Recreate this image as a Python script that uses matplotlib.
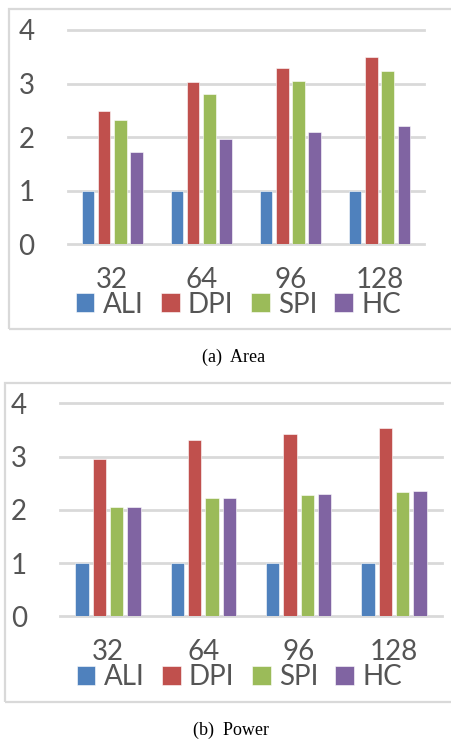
import matplotlib
matplotlib.use("Agg")
import matplotlib.pyplot as plt
import numpy as np
from matplotlib.patches import Rectangle

W, H = 452, 741

categories = ["32", "64", "96", "128"]
series = ["ALI", "DPI", "SPI", "HC"]
colors = ["#4F81BD", "#C0504D", "#9BBB59", "#8064A2"]

area_ali = [1.0, 1.0, 1.0, 1.0]
area_dpi = [2.49, 3.03, 3.30, 3.50]
area_spi = [2.32, 2.80, 3.05, 3.23]
area_hc = [1.72, 1.96, 2.10, 2.20]

power_ali = [1.0, 1.0, 1.0, 1.0]
power_dpi = [2.95, 3.31, 3.43, 3.53]
power_spi = [2.05, 2.22, 2.28, 2.33]
power_hc = [2.06, 2.23, 2.30, 2.35]

yticks = [0, 1, 2, 3, 4]

TEXT = "#555555"
GRID = "#d9d9d9"
FONT = "Lato"


def px_box(left, top, right, bottom):
    # pixel box -> figure fraction [l, b, w, h]
    return [left / W, 1 - bottom / H, (right - left) / W, (bottom - top) / H]


def draw_panel(fig, box, frame, values, legend_xy, caption, caption_xy):
    fig.add_artist(Rectangle((frame[0] / W, 1 - frame[3] / H),
                             (frame[2] - frame[0]) / W, (frame[3] - frame[1]) / H,
                             transform=fig.transFigure, fill=False,
                             edgecolor=GRID, linewidth=1.6))
    ax = fig.add_axes(px_box(*box))
    x = np.arange(len(categories))
    step = 0.182
    width = 0.14
    handles = []
    for i, (vals, c, name) in enumerate(zip(values, colors, series)):
        b = ax.bar(x + (i - 1.5) * step, vals, width, color=c,
                   edgecolor="white", linewidth=0.4, label=name, zorder=3)
        handles.append(b)
    ax.set_xlim(-0.5, len(categories) - 0.5)
    ax.set_ylim(0, 4)
    ax.set_yticks(yticks)
    ax.set_yticklabels([str(t) for t in yticks])
    ax.set_xticks(x)
    ax.set_xticklabels(categories)
    for t in yticks:
        ax.axhline(t, color=GRID, linewidth=2.0, zorder=1, clip_on=False)
    for s in ax.spines.values():
        s.set_visible(False)
    ax.tick_params(axis="y", length=0, pad=24, labelsize=20, labelcolor=TEXT)
    ax.tick_params(axis="x", length=0, pad=16, labelsize=20, labelcolor=TEXT)
    for lbl in ax.get_xticklabels() + ax.get_yticklabels():
        lbl.set_fontfamily(FONT)
    fig.legend(handles=handles, labels=series, loc="center",
               bbox_to_anchor=(legend_xy[0] / W, 1 - legend_xy[1] / H),
               ncol=4, frameon=False,
               prop={"family": FONT, "size": 20},
               labelcolor=TEXT, handlelength=0.68, handleheight=0.68,
               handletextpad=0.3, columnspacing=0.62, borderpad=0,
               borderaxespad=0)
    fig.text(caption_xy[0] / W, 1 - caption_xy[1] / H, caption,
             ha="center", va="center", fontsize=13,
             family="Liberation Serif", color="black")
    return ax


fig = plt.figure(figsize=(W / 100, H / 100), dpi=100)

draw_panel(fig, (67.7, 30, 424, 244.3), (9, 8.5, 460, 328.5),
           [area_ali, area_dpi, area_spi, area_hc],
           (238.5, 304.5), "(a)  Area", (233.5, 357))

draw_panel(fig, (60.3, 403.3, 441.7, 616.3), (5, 382.5, 460, 701.5),
           [power_ali, power_dpi, power_spi, power_hc],
           (239.5, 677), "(b)  Power", (231, 730))

fig.savefig("out.png", dpi=100)
